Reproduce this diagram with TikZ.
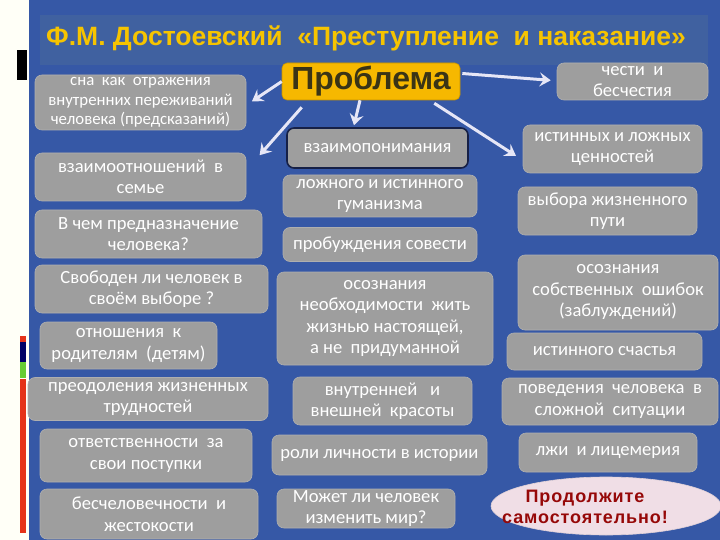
\documentclass[tikz,border=0pt]{standalone}
\usepackage{fontspec}
\setmainfont{Carlito}
\newfontfamily\arialf{Liberation Sans}
\usetikzlibrary{arrows.meta,shapes.geometric,calc}
\definecolor{bgblue}{RGB}{54,88,166}
\definecolor{bandblue}{RGB}{64,97,160}
\definecolor{boxgray}{RGB}{158,158,158}
\definecolor{boxedge}{RGB}{175,175,175}
\definecolor{titleyellow}{RGB}{246,196,0}
\definecolor{probgold}{RGB}{246,184,0}
\definecolor{probtext}{RGB}{58,52,22}
\definecolor{arrowcol}{RGB}{230,230,246}
\definecolor{ellfill}{RGB}{240,222,230}
\definecolor{ellred}{RGB}{150,8,8}
\definecolor{navyedge}{RGB}{22,32,70}
\tikzset{
  gbox/.style={rectangle, rounded corners=7pt, fill=boxgray, draw=boxedge, line width=0.6pt,
    text=white, align=center, inner sep=0pt,
    font=\fontsize{18.6}{21.5}\selectfont},
  smallbox/.style={gbox, font=\fontsize{16.8}{19.5}\selectfont},
  arr/.style={draw=arrowcol, line width=3pt, -{Stealth[length=11pt,width=14pt,inset=4pt]}, shorten >=2pt}
}
\begin{document}
\begin{tikzpicture}[x=1pt,y=-1pt]
\useasboundingbox (0,0) rectangle (720,540);
% backgrounds
\fill[white!97!yellow] (0,0) rectangle (29,540);
\fill[bgblue] (29,0) rectangle (720,540);
\fill[black] (17,50) rectangle (27,80);
\fill[red!60!brown] (20,336) rectangle (26,342);
\fill[blue!40!black] (20,342) rectangle (26,362);
\fill[green!50!olive!80] (20,362) rectangle (26,378);
\fill[red!60!brown] (20,379) rectangle (26,533);
\fill[bandblue] (40,15) rectangle (708,65);
\node[font=\arialf\bfseries\fontsize{26.5}{30}\selectfont, text=titleyellow] (title) at (366,38)
  {Ф.М. Достоевский\ \ «Преступление\ \ и наказание»};

% problem
\node[rectangle, rounded corners=5pt, fill=probgold, draw=probgold!80!black, line width=0.6pt,
  minimum width=178pt, minimum height=37pt, inner sep=0pt, text=probtext,
  font=\arialf\bfseries\fontsize{32}{34}\selectfont] (prob) at (371,81.5) {Проблема};

% left column
\node[smallbox, minimum width=211pt, minimum height=55pt] (L1) at (140.5,102.5)
  {сна\ \ как\ \ отражения\\внутренних переживаний\\человека (предсказаний)};
\node[gbox, minimum width=211pt, minimum height=48pt] (L2) at (140.5,177)
  {взаимоотношений\ \ в\\семье};
\node[gbox, minimum width=227pt, minimum height=48pt] (L3) at (148.5,234)
  {В чем предназначение\\человека?};
\node[gbox, minimum width=233pt, minimum height=48pt] (L4) at (151.5,289)
  {Свободен ли человек в\\своём выборе ?};
\node[gbox, minimum width=177pt, minimum height=47pt] (L5) at (128.5,345.5)
  {отношения\ \ к\\родителям\ \ (детям)};
\node[gbox, minimum width=240pt, minimum height=43pt] (L6) at (148,399)
  {преодоления жизненных\\трудностей};
\node[gbox, minimum width=212pt, minimum height=53pt] (L7) at (146,455.5)
  {ответственности\ \ за\\свои поступки};
\node[gbox, minimum width=218pt, minimum height=50pt] (L8) at (149,514)
  {бесчеловечности\ \ и\\жестокости};

% middle column
\node[gbox, draw=navyedge, line width=1.6pt, minimum width=181pt, minimum height=40pt] (M1) at (377.5,148)
  {взаимопонимания};
\node[gbox, minimum width=194pt, minimum height=42pt] (M2) at (380,196)
  {ложного и истинного\\гуманизма};
\node[gbox, minimum width=194pt, minimum height=34pt] (M3) at (380,244.5)
  {пробуждения совести};
\node[gbox, minimum width=216pt, minimum height=93pt] (M4) at (385,318.5)
  {осознания\\необходимости\ \ жить\\жизнью настоящей,\\а не\ \ придуманной};
\node[gbox, minimum width=179pt, minimum height=48pt] (M5) at (382.5,401)
  {внутренней\ \ \ и\\внешней\ \ красоты};
\node[gbox, minimum width=215pt, minimum height=40pt] (M6) at (379.5,455)
  {роли личности в истории};
\node[gbox, minimum width=178pt, minimum height=39pt] (M7) at (366,508.5)
  {Может ли человек\\изменить мир?};

% right column
\node[gbox, minimum width=151pt, minimum height=37pt] (R1) at (632.5,81.5)
  {чести\ \ и\\бесчестия};
\node[gbox, minimum width=179pt, minimum height=48pt] (R2) at (612.5,149)
  {истинных и ложных\\ценностей};
\node[gbox, minimum width=179pt, minimum height=48pt] (R3) at (607.5,211)
  {выбора жизненного\\пути};
\node[gbox, minimum width=200pt, minimum height=75pt] (R4) at (618,292.5)
  {осознания\\собственных\ \ ошибок\\(заблуждений)};
\node[gbox, minimum width=195pt, minimum height=37pt] (R5) at (604.5,351.5)
  {истинного счастья};
\node[gbox, minimum width=216pt, minimum height=47pt] (R6) at (610,401.5)
  {поведения\ \ человека\ \ в\\сложной\ \ ситуации};
\node[gbox, minimum width=178pt, minimum height=39pt] (R7) at (608,452.5)
  {лжи\ \ и лицемерия};
\node[ellipse, fill=ellfill, draw=ellfill!85!gray, line width=0.6pt, minimum width=230pt, minimum height=58pt,
  inner sep=0pt] (E) at (606,506) {};
\node[align=center, text=ellred, inner sep=0pt,
  font=\arialf\bfseries\fontsize{18}{21}\selectfont\addfontfeature{LetterSpace=5}] (Etext) at (585,507)
  {Продолжите\\самостоятельно!};

% arrows
\draw[arr] (prob.west) -- ([xshift=4pt]L1.east);
\draw[arr] ([xshift=20pt,yshift=-7pt]prob.south west) -- ([xshift=12pt,yshift=-4pt]L2.north east);
\draw[arr] ([xshift=-11pt]prob.south) -- ([xshift=-24pt]M1.north);
\draw[arr] ([xshift=2pt,yshift=8pt]prob.east) -- ([xshift=-4pt,yshift=1pt]R1.west);
\draw[arr] ([xshift=-26pt,yshift=-3pt]prob.south east) -- ([xshift=-5pt,yshift=-8pt]R2.west);
\end{tikzpicture}
\end{document}
